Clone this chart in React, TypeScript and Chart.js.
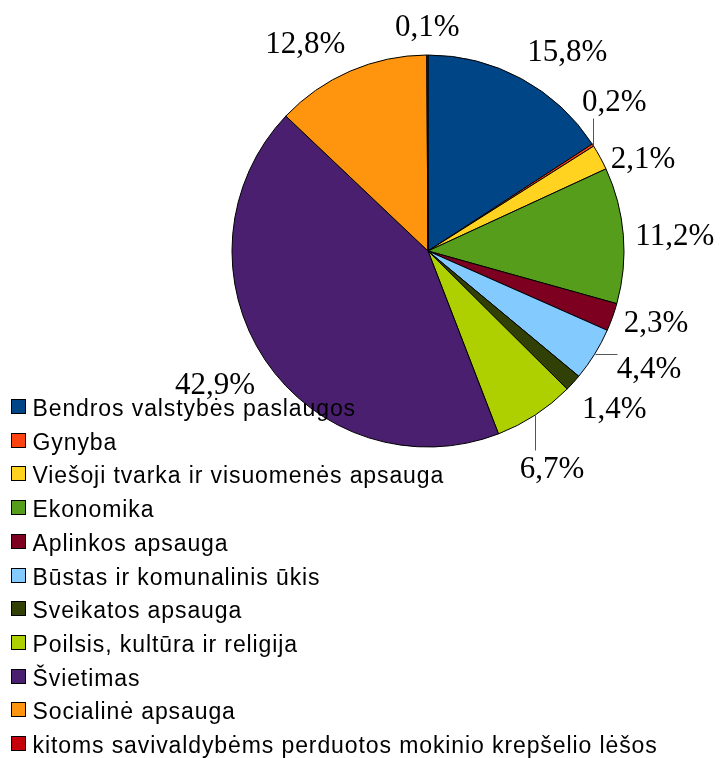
import { useEffect, useRef } from "react";
import { Chart, registerables } from "chart.js";

Chart.register(...registerables);

const categories = [
  "Bendros valstybės paslaugos",
  "Gynyba",
  "Viešoji tvarka ir visuomenės apsauga",
  "Ekonomika",
  "Aplinkos apsauga",
  "Būstas ir komunalinis ūkis",
  "Sveikatos apsauga",
  "Poilsis, kultūra ir religija",
  "Švietimas",
  "Socialinė apsauga",
  "kitoms savivaldybėms perduotos mokinio krepšelio lėšos",
];

const shares = [15.8, 0.2, 2.1, 11.2, 2.3, 4.4, 1.4, 6.7, 42.9, 12.8, 0.1];

const percentLabels = shares.map((v) => v.toFixed(1).replace(".", ",") + "%");

const colors = [
  "#004586",
  "#ff420e",
  "#ffd320",
  "#579d1c",
  "#7e0021",
  "#83caff",
  "#314004",
  "#aecf00",
  "#4b1f6f",
  "#ff950e",
  "#c5000b",
];

// label placement adjustments (style only)
const labelAdjust: { dx?: number; dy?: number; leader?: boolean }[] = [
  {},
  { dx: -21, dy: -21, leader: true },
  { dx: 0, dy: 23 },
  {},
  {},
  { dx: 12, dy: -10, leader: true },
  {},
  { dx: -22, dy: 25, leader: true },
  {},
  {},
  {},
];

const LABEL_SIZE = 31;
const LEGEND_SIZE = 23;

const overlayPlugin = {
  id: "overlay",
  afterDraw(chart: any) {
    const ctx: CanvasRenderingContext2D = chart.ctx;
    const meta = chart.getDatasetMeta(0);
    ctx.save();
    // data labels
    ctx.font = `${LABEL_SIZE}px "Liberation Serif", "Times New Roman", serif`;
    ctx.textAlign = "left";
    ctx.textBaseline = "alphabetic";
    const asc = 0.891 * LABEL_SIZE;
    const desc = 0.216 * LABEL_SIZE;
    const h = asc + desc;
    meta.data.forEach((arc: any, i: number) => {
      const { x, y, startAngle, endAngle, outerRadius } = arc.getProps(
        ["x", "y", "startAngle", "endAngle", "outerRadius"],
        true
      );
      const a = (startAngle + endAngle) / 2;
      const cos = Math.cos(a);
      const sin = Math.sin(a);
      const r = outerRadius + 12;
      const ax = x + r * cos;
      const ay = y + r * sin;
      const text = percentLabels[i];
      const w = ctx.measureText(text).width;
      let phi = ((-a * 180) / Math.PI) % 360;
      if (phi < 0) phi += 360;
      let left: number, top: number;
      if (phi <= 22.5 || phi > 337.5) {
        left = ax;
        top = ay - h / 2;
      } else if (phi < 67.5) {
        left = ax;
        top = ay - h;
      } else if (phi < 112.5) {
        left = ax - w / 2;
        top = ay - h;
      } else if (phi <= 157.5) {
        left = ax - w;
        top = ay - h;
      } else if (phi <= 202.5) {
        left = ax - w;
        top = ay - h / 2;
      } else if (phi < 247.5) {
        left = ax - w;
        top = ay;
      } else if (phi < 292.5) {
        left = ax - w / 2;
        top = ay;
      } else {
        left = ax;
        top = ay;
      }
      const adj = labelAdjust[i] || {};
      left += adj.dx || 0;
      top += adj.dy || 0;
      if (adj.leader) {
        const ex = x + outerRadius * cos;
        const ey = y + outerRadius * sin;
        const px = Math.min(Math.max(ex, left), left + w);
        const py = Math.min(Math.max(ey, top), top + h);
        ctx.strokeStyle = "#555555";
        ctx.lineWidth = 1;
        ctx.beginPath();
        ctx.moveTo(Math.round(ex) + 0.5, Math.round(ey) + 0.5);
        ctx.lineTo(Math.round(px) + 0.5, Math.round(py) + 0.5);
        ctx.stroke();
      }
      ctx.fillStyle = "#000000";
      ctx.fillText(text, left, top + asc);
    });

    // legend
    ctx.font = `${LEGEND_SIZE}px "Liberation Sans", Arial, sans-serif`;
    try {
      (ctx as any).letterSpacing = "0.9px";
    } catch (e) {}
    categories.forEach((name, i) => {
      const base = Math.round(416 + i * 33.7);
      ctx.fillStyle = colors[i];
      ctx.fillRect(11, base - 17, 15, 15);
      ctx.strokeStyle = "#000000";
      ctx.lineWidth = 1;
      ctx.strokeRect(11.5, base - 16.5, 14, 14);
      ctx.fillStyle = "#000000";
      ctx.fillText(name, 32.5, base);
    });
    ctx.restore();
  },
};

export default function App() {
  const canvasRef = useRef<HTMLCanvasElement | null>(null);

  useEffect(() => {
    if (!canvasRef.current) return;
    const chart = new Chart(canvasRef.current, {
      type: "pie",
      data: {
        labels: categories,
        datasets: [
          {
            data: shares,
            backgroundColor: colors,
            borderColor: "#000000",
            borderWidth: 1,
            hoverOffset: 0,
            radius: 196,
          } as any,
        ],
      },
      options: {
        responsive: false,
        animation: false,
        devicePixelRatio: 1,
        layout: {
          padding: { left: 232, top: 55, right: 96, bottom: 311 },
        },
        plugins: {
          legend: { display: false },
          tooltip: { enabled: false },
          title: { display: false },
        },
        events: [],
      } as any,
      plugins: [overlayPlugin],
    });
    return () => chart.destroy();
  }, []);

  return (
    <div
      style={{
        position: "absolute",
        left: 0,
        top: 0,
        width: 720,
        height: 758,
        background: "#ffffff",
      }}
    >
      <canvas
        ref={canvasRef}
        width={720}
        height={758}
        style={{ width: 720, height: 758, display: "block" }}
      />
    </div>
  );
}
